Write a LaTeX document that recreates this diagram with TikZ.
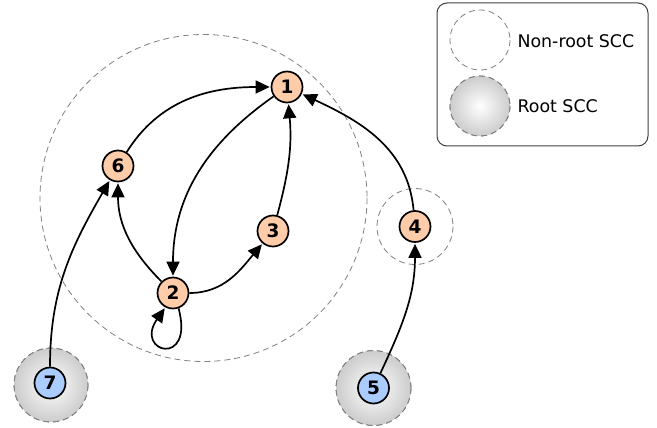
\documentclass[tikz,border=0pt]{standalone}
\usepackage{fontspec}
\setmainfont{DejaVu Sans}
\usetikzlibrary{arrows.meta}
\definecolor{orangefill}{HTML}{FFCCAA}
\definecolor{bluefill}{HTML}{AACCFF}
\begin{document}
\begin{tikzpicture}[x=1pt,y=-1pt,
  vtx/.style={circle,draw=black,line width=1.7pt,minimum size=31pt,inner sep=0pt,
    font=\fontsize{18.5}{20}\selectfont\bfseries},
  nonroot/.style={vtx,fill=orangefill},
  rootv/.style={vtx,fill=bluefill},
  scc/.style={draw=gray,line width=0.8pt,dash pattern=on 6pt off 4pt},
  rootscc/.style={scc,inner color=white,outer color=gray!40},
  arr/.style={line width=1.7pt,-{Triangle[length=14pt,width=13pt]},shorten >=1pt},
  legtext/.style={anchor=west,font=\fontsize{17.4}{20}\selectfont}]
\useasboundingbox (0,0) rectangle (657,428);
% SCC circles
\draw[scc] (203.5,198) circle (163.5);
\draw[scc] (415,226.5) circle (38);
\shade[rootscc] (51,385) circle (37);
\draw[scc] (51,385) circle (37);
\shade[rootscc] (373.5,388) circle (37.5);
\draw[scc] (373.5,388) circle (37.5);
% legend
\draw[line width=1pt,draw=black!75,rounded corners=10pt] (437,3) rectangle (648,146);
\draw[scc] (480,40) circle (30);
\shade[rootscc] (480,106) circle (30);
\draw[scc] (480,106) circle (30);
\node[legtext] (l1) at (514,41) {Non-root SCC};
\node[legtext] (l2) at (514,106) {Root SCC};
% vertices
\node[nonroot] (n1) at (287,87) {1};
\node[nonroot] (n6) at (118,166) {6};
\node[nonroot] (n3) at (273,231) {3};
\node[nonroot] (n2) at (173,293) {2};
\node[nonroot] (n4) at (415,226.5) {4};
\node[rootv] (n5) at (373.5,388) {5};
\node[rootv] (n7) at (50,383) {7};
% edges
\draw[arr] (n6) to[out=58,in=180] (n1);
\draw[arr] (n1) to[out=215,in=90] (n2);
\draw[arr] (n2) to[out=135,in=-90] (n6);
\draw[arr] (n2) to[out=0,in=230] (n3);
\draw[arr] (n3) to[out=75,in=-85] (n1);
\draw[arr] (n4) to[out=95,in=-25] (n1);
\draw[arr] (n5) to[out=65,in=-90] (n4);
\draw[arr] (n7) to[out=90,in=240] (n6);
\draw[arr] (n2.-70) .. controls +(75:62) and +(125:55) .. (n2.-118);
\end{tikzpicture}
\end{document}
